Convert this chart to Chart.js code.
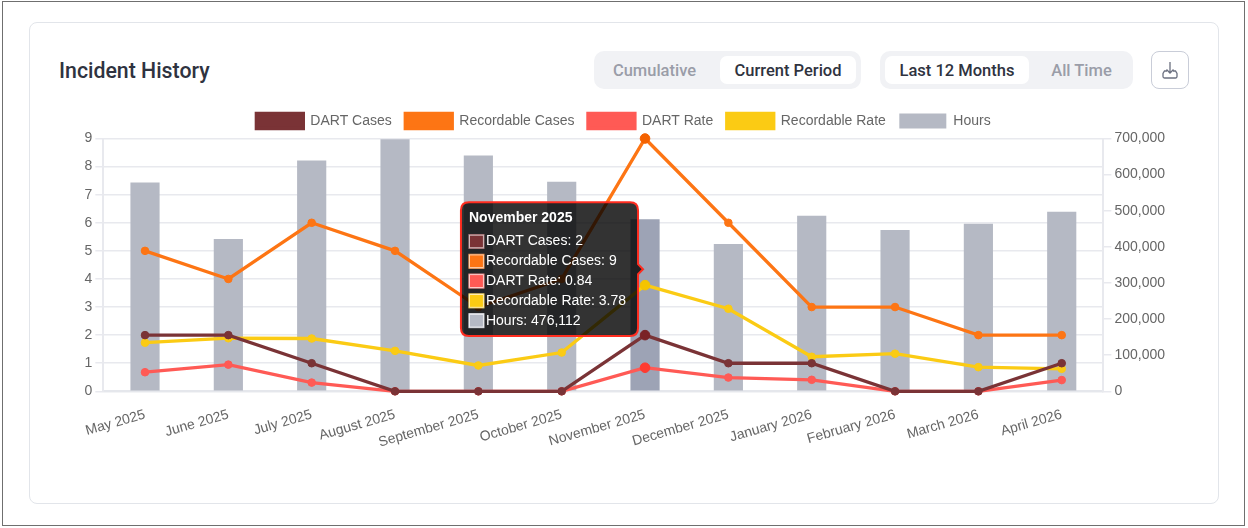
<!DOCTYPE html>
<html><head><meta charset="utf-8">
<script src="https://cdn.jsdelivr.net/npm/chart.js@4"></script>
<style>
html,body{margin:0;padding:0;background:#fff;width:1248px;height:528px;overflow:hidden}
#frame{position:absolute;left:2px;top:1px;width:1241px;height:523px;border:1.5px solid #6f6f6f}
#card{position:absolute;left:29px;top:22px;width:1188px;height:480px;border:1px solid #e2e5ea;border-radius:8px}
#title{position:absolute;left:59px;top:58px;font:500 21.3px Roboto,sans-serif;color:#2f3340}
.seg{position:absolute;top:51px;height:38px;background:#f1f2f5;border-radius:10px}
.btn{position:absolute;top:5px;height:28px;text-align:center;font:500 16.5px/29px Roboto,sans-serif;color:#9a9da8;border-radius:7px}
.on{background:#fff;color:#2f3340}
#dl{position:absolute;left:1151px;top:51px;width:36px;height:36px;border:1.5px solid #c9cdd8;border-radius:8px}
#wrap{position:absolute;left:70px;top:100px;width:1107px;height:366px}
</style></head><body>
<div id="frame"></div><div id="card"></div>
<div id="title">Incident History</div>
<div class="seg" style="left:594px;width:267px"><div class="btn" style="left:-2px;width:125px">Cumulative</div><div class="btn on" style="left:126px;width:136px">Current Period</div></div>
<div class="seg" style="left:880px;width:253px"><div class="btn on" style="left:5px;width:144px">Last 12 Months</div><div class="btn" style="left:150px;width:103px">All Time</div></div>
<div id="dl"><svg width="36" height="36" viewBox="0 0 36 36" fill="none" stroke="#6b7080" stroke-width="1.3"><path d="M18 10v11M14.5 17.5l3.5 3.5 3.5-3.5M15 19h-2.5l-1.5 2.5v3a1.5 1.5 0 0 0 1.5 1.5h11a1.5 1.5 0 0 0 1.5-1.5v-3L23.5 19H21"/></svg></div>
<div id="wrap"><canvas id="c"></canvas></div>
<script>
const categories=["May 2025","June 2025","July 2025","August 2025","September 2025","October 2025","November 2025","December 2025","January 2026","February 2026","March 2026","April 2026"];
const dartCases=[2,2,1,0,0,0,2,1,1,0,0,1];
const recordableCases=[5,4,6,5,3,4,9,6,3,3,2,2];
const dartRate=[0.68,0.95,0.31,0,0,0,0.84,0.49,0.41,0,0,0.40];
const recordableRate=[1.73,1.89,1.88,1.44,0.92,1.38,3.78,2.94,1.23,1.34,0.86,0.80];
const hours=[578000,422000,639000,698000,653000,580000,476112,408000,486000,447000,464000,497000];
const FONT="'Liberation Sans',Arial,sans-serif";
function line(label,data,col,hover){return{type:'line',label,data,borderColor:col,backgroundColor:col,borderWidth:3.3,pointRadius:3.8,pointHoverRadius:4.8,pointBorderWidth:1,pointHoverBorderWidth:1,pointBackgroundColor:col,pointBorderColor:col,pointHoverBackgroundColor:hover,pointHoverBorderColor:hover,tension:0,clip:false,yAxisID:'y'};}
const legendSwatchEdges=['#a87a7c','#ffa35f','#ff9a97','#ffe06c','#dcdee4'];
const chart=new Chart(document.getElementById('c'),{
 data:{labels:categories,datasets:[
  line('DART Cases',dartCases,'#7a3336','#7a2226'),
  line('Recordable Cases',recordableCases,'#fd7514','#f46200'),
  line('DART Rate',dartRate,'#ff5a55','#ff3b30'),
  line('Recordable Rate',recordableRate,'#fbcb14','#f5c400'),
  {type:'bar',label:'Hours',data:hours,backgroundColor:'#b5b9c4',hoverBackgroundColor:'#9da3b5',borderWidth:0,barPercentage:0.35,categoryPercentage:1,yAxisID:'y1'}
 ]},
 options:{responsive:true,maintainAspectRatio:false,animation:false,
  interaction:{mode:'index',intersect:false},
  scales:{
   x:{grid:{display:false,drawTicks:false},border:{color:'#e5e7ec',width:2},ticks:{color:'#666',font:{family:FONT,size:14},minRotation:16,maxRotation:16,autoSkip:false,padding:15}},
   y:{position:'left',min:0,max:9,grid:{color:'#e8e9ee',lineWidth:1.5},border:{color:'#e8e9ee',width:2},ticks:{stepSize:1,color:'#666',font:{family:FONT,size:14}}},
   y1:{position:'right',min:0,max:700000,afterFit:s=>{s.width+=9;},grid:{drawOnChartArea:false,color:'#e8e9ee',lineWidth:1.5},border:{color:'#e8e9ee',width:2},ticks:{stepSize:100000,color:'#666',font:{family:FONT,size:14},callback:v=>v.toLocaleString('en-US')}}
  },
  plugins:{
   legend:{position:'top',labels:{boxWidth:47,boxHeight:15,color:'#666',font:{family:FONT,size:14},padding:13.5}},
   tooltip:{backgroundColor:'rgba(0,0,0,0.8)',borderColor:'#ff2d20',borderWidth:2,cornerRadius:8,padding:{left:8,right:12,top:7,bottom:7},titleFont:{family:FONT,size:14,weight:'bold'},bodyFont:{family:FONT,size:14},titleColor:'#fff',bodyColor:'#fff',boxWidth:15,boxHeight:14,bodySpacing:3,titleMarginBottom:7,
    callbacks:{label:c=>c.dataset.label+': '+c.parsed.y.toLocaleString('en-US'),
     labelColor:c=>({borderColor:legendSwatchEdges[c.datasetIndex],backgroundColor:c.dataset.backgroundColor,borderWidth:1})}}
  }
 }
});
const act=[0,1,2,3,4].map(d=>({datasetIndex:d,index:6}));
chart.setActiveElements(act);
chart.tooltip.setActiveElements(act,{x:chart.scales.x.getPixelForValue(6),y:270});
chart.update();
</script></body></html>
